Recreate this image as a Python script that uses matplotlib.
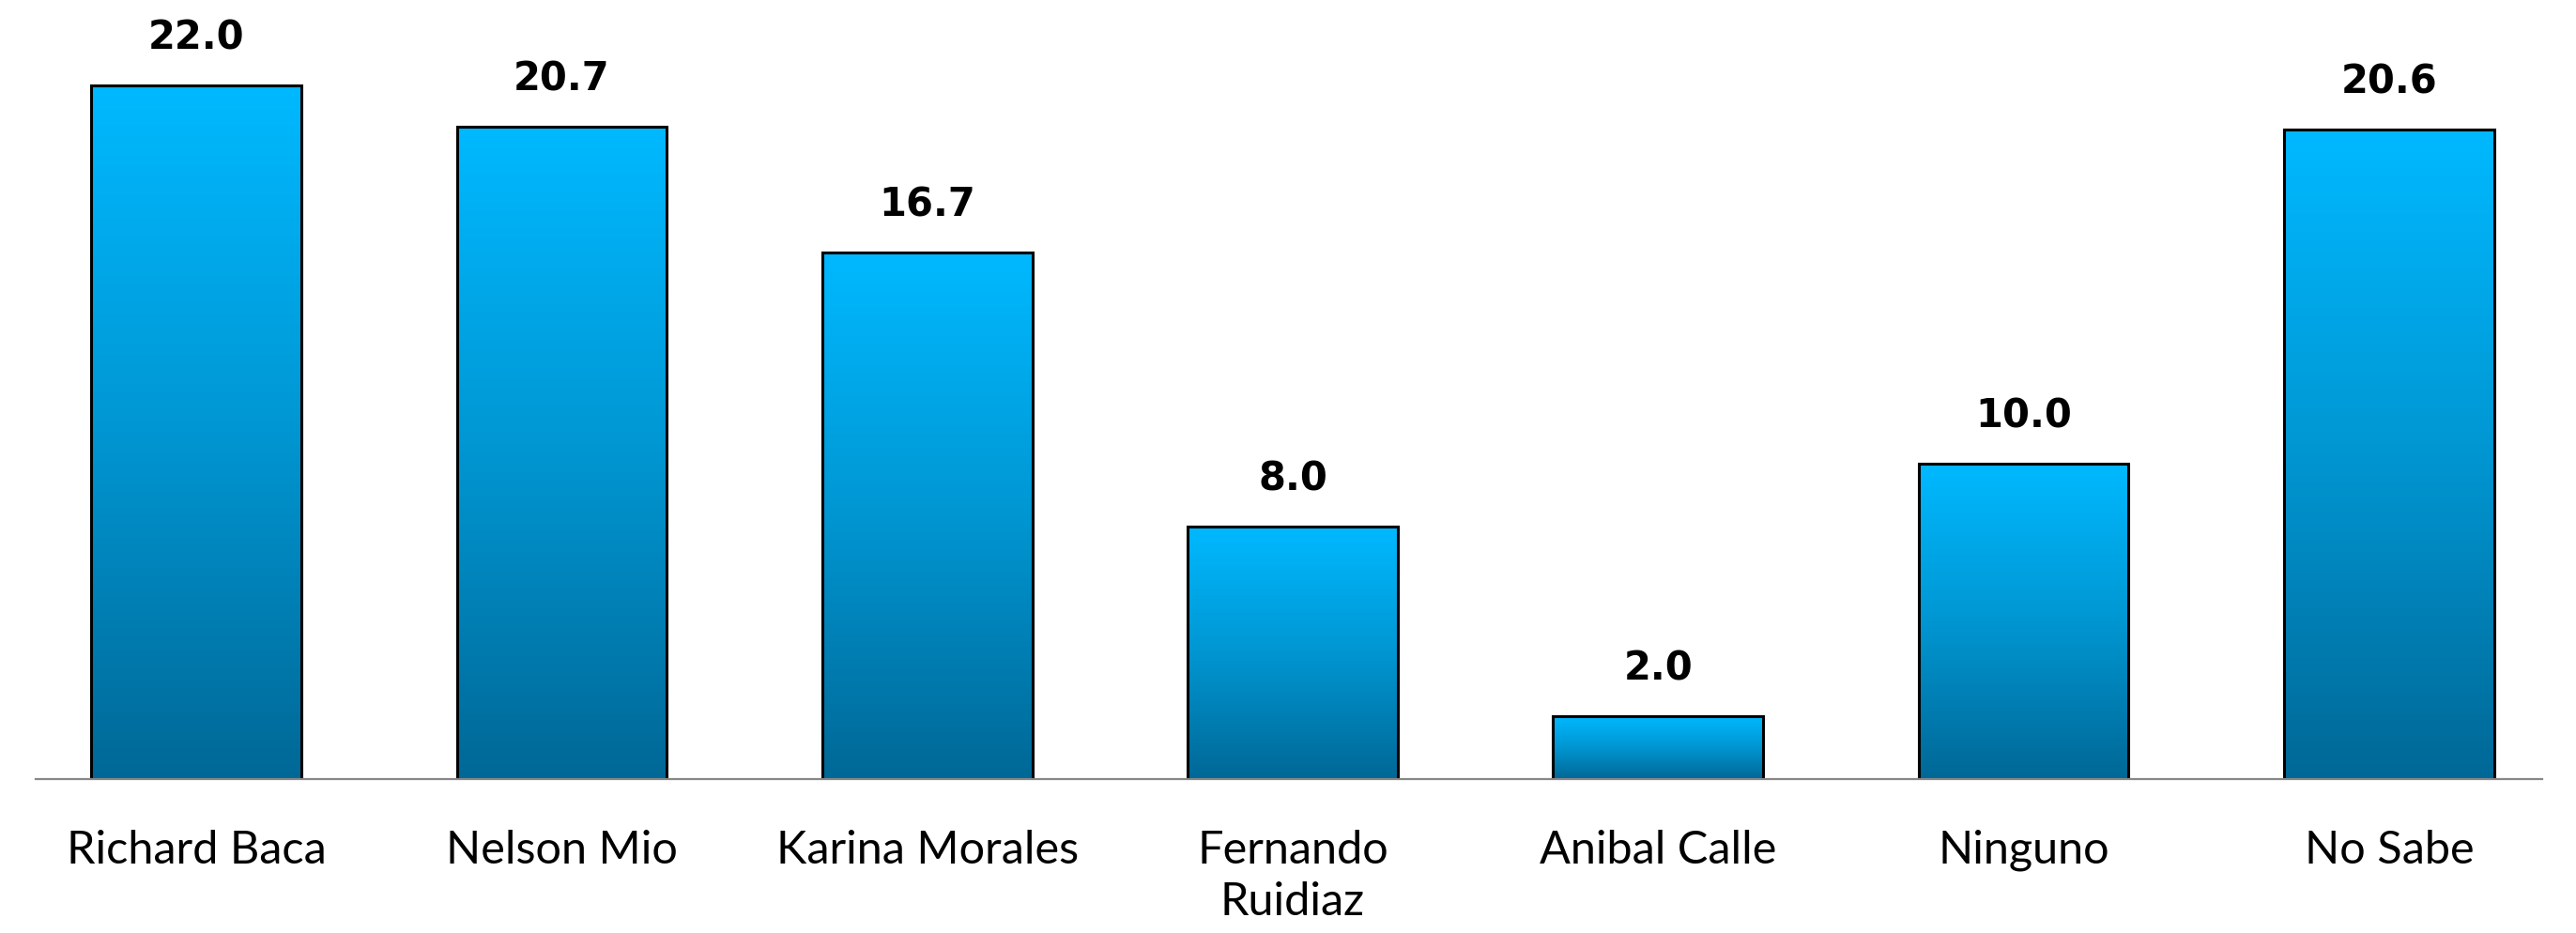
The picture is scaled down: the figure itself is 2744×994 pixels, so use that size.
import numpy as np
import matplotlib.pyplot as plt
from matplotlib.colors import LinearSegmentedColormap

categories = ['Richard Baca', 'Nelson Mio', 'Karina Morales', 'Fernando\nRuidiaz',
              'Anibal Calle', 'Ninguno', 'No Sabe']
values = [22.0, 20.7, 16.7, 8.0, 2.0, 10.0, 20.6]

fig = plt.figure(figsize=(27.44, 9.95), dpi=100)
ax = fig.add_axes([0.0138, 0.165, 0.9732, 0.810])

# degradado vertical: oscuro abajo, celeste arriba
cmap = LinearSegmentedColormap.from_list('azul', ['#006896', '#0096D2', '#00B9FF'])
grad = np.linspace(0, 1, 256).reshape(-1, 1)

x = np.arange(len(categories))
width = 0.575
bars = ax.bar(x, values, width=width, facecolor='none', edgecolor='black',
              linewidth=2.2, zorder=3)

for b in bars:
    x0, h = b.get_x(), b.get_height()
    ax.imshow(grad, cmap=cmap, origin='lower', aspect='auto',
              extent=[x0, x0 + b.get_width(), 0, h], zorder=2)
    ax.annotate(f'{h:.1f}', (x0 + b.get_width() / 2, h), xytext=(0, 22),
                textcoords='offset points', ha='center', va='bottom',
                fontsize=30, fontweight='bold', family='DejaVu Sans')

ax.set_xlim(-0.44, 6.42)
ax.set_ylim(0, 24)
ax.set_xticks(x)
ax.set_xticklabels(categories, fontsize=35, family='Lato', linespacing=1.32)
ax.tick_params(axis='x', length=0, pad=38)
ax.set_yticks([])
for s in ['top', 'right', 'left']:
    ax.spines[s].set_visible(False)
ax.spines['bottom'].set_color('#878787')
ax.spines['bottom'].set_linewidth(1.6)
ax.spines['bottom'].set_zorder(4)

fig.savefig('out.png', dpi=100)
